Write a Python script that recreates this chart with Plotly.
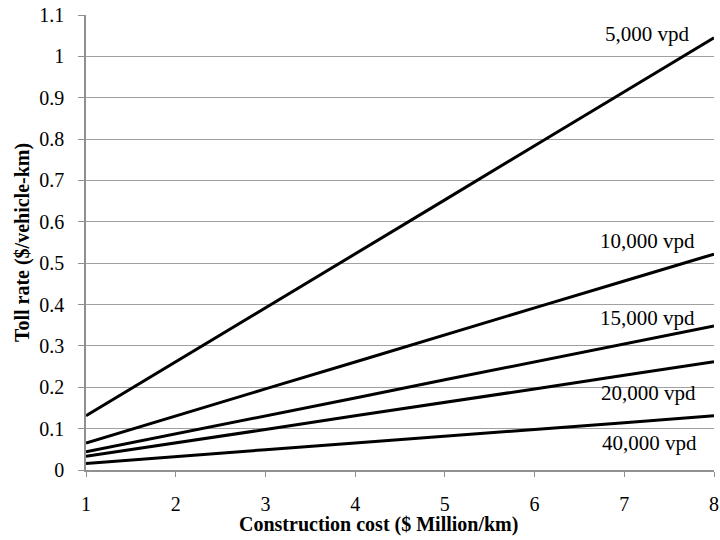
import plotly.graph_objects as go

cost = [1, 2, 3, 4, 5, 6, 7, 8]
toll_5000 = [0.131, 0.261, 0.392, 0.522, 0.653, 0.784, 0.914, 1.045]
toll_10000 = [0.065, 0.131, 0.196, 0.261, 0.327, 0.392, 0.457, 0.522]
toll_15000 = [0.044, 0.087, 0.131, 0.174, 0.218, 0.261, 0.305, 0.348]
toll_20000 = [0.033, 0.065, 0.098, 0.131, 0.163, 0.196, 0.229, 0.262]
toll_40000 = [0.016, 0.033, 0.049, 0.065, 0.082, 0.098, 0.114, 0.131]

series = [
    ("5,000 vpd", toll_5000),
    ("10,000 vpd", toll_10000),
    ("15,000 vpd", toll_15000),
    ("20,000 vpd", toll_20000),
    ("40,000 vpd", toll_40000),
]
label_pos = [(7.26, 1.054), (7.26, 0.554), (7.26, 0.367), (7.265, 0.186), (7.285, 0.065)]

fig = go.Figure()
for (name, vals) in series:
    fig.add_trace(go.Scatter(x=cost, y=vals, mode="lines", name=name,
                             line=dict(color="black", width=3), showlegend=False))

for (name, _), (lx, ly) in zip(series, label_pos):
    fig.add_annotation(x=lx, y=ly, text=name, showarrow=False,
                       font=dict(family="Liberation Serif", size=21, color="black"),
                       xanchor="center", yanchor="middle")

L, R, T, B = 86, 6, 15, 70
W, H = 720, 540
# x-axis title (slightly left of centre, as in the reference)
fig.add_annotation(xref="paper", x=(378 - L) / (W - L - R),
                   yref="paper", y=-(524 - (H - B)) / (H - T - B),
                   text="<b>Construction cost ($ Million/km)</b>",
                   showarrow=False, font=dict(family="Liberation Serif", size=20, color="black"),
                   xanchor="center", yanchor="middle")

fig.update_layout(
    width=W, height=H,
    margin=dict(l=L, r=R, t=T, b=B),
    paper_bgcolor="white", plot_bgcolor="white",
    font=dict(family="Liberation Serif", size=20, color="black"),
)

fig.update_xaxes(
    range=[1, 8], tickvals=cost, ticktext=[str(c) for c in cost],
    showgrid=False, showline=True, linecolor="#909090", linewidth=1.5,
    ticks="outside", ticklen=5, tickcolor="#909090",
    zeroline=False, automargin=False, ticklabelstandoff=10,
)
fig.update_yaxes(
    range=[0, 1.1], tickvals=[0, 0.1, 0.2, 0.3, 0.4, 0.5, 0.6, 0.7, 0.8, 0.9, 1.0, 1.1],
    ticktext=["0", "0.1", "0.2", "0.3", "0.4", "0.5", "0.6", "0.7", "0.8", "0.9", "1", "1.1"],
    showgrid=True, gridcolor="#a0a0a0", gridwidth=1,
    showline=True, linecolor="#909090", linewidth=1.5,
    ticks="outside", ticklen=6, tickcolor="#909090",
    zeroline=False, automargin=False, ticklabelstandoff=10,
    title=dict(text="<b>Toll rate ($/vehicle-km)</b>", font=dict(size=20), standoff=4),
)

fig.write_html("out.html", config={"displayModeBar": False},
               post_script="document.body.style.margin='0';")
